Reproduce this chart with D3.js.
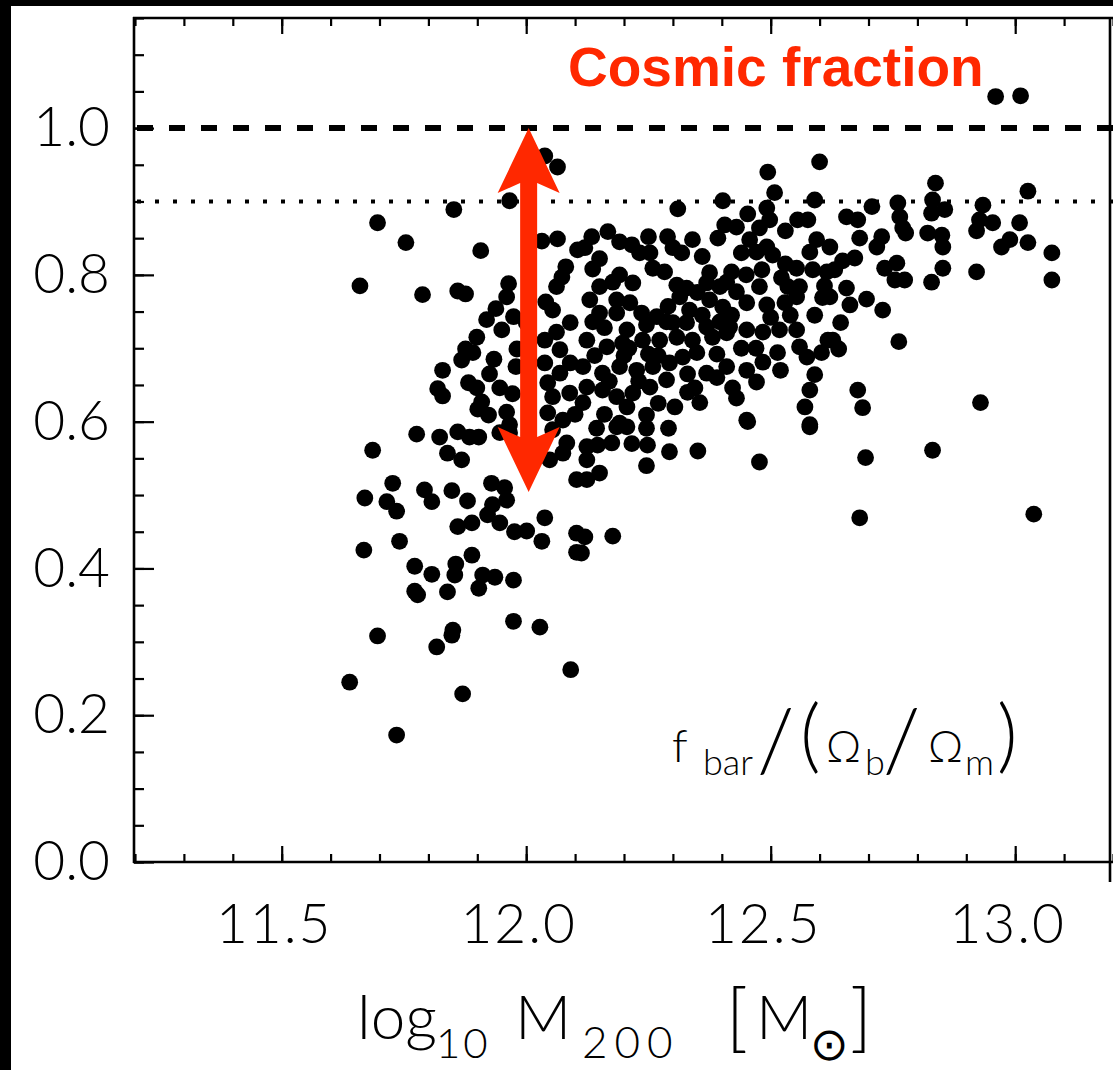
<!DOCTYPE html>
<html><head><meta charset="utf-8">
<script src="https://cdn.jsdelivr.net/npm/d3@7"></script>
<style>html,body{margin:0;padding:0;background:#000;} svg{display:block}</style>
</head><body><svg id="c" width="1113" height="1070"></svg>
<script>
// ---------- data (log10 M200, f_bar/(Omega_b/Omega_m)) ----------
const xTicksMajor = [11.5, 12.0, 12.5, 13.0];
const yTicksMajor = [0.0, 0.2, 0.4, 0.6, 0.8, 1.0];
const xDomain = [11.2, 13.2];
const yDomain = [0, 1.15];
const cosmicLevel = 1.0;
const dottedLevel = 0.9;
const arrowMass = 12.005;
const arrowRange = [0.504, 1.0];

const outliers = [[11.639,0.245],[11.735,0.173],[11.696,0.308],[11.668,0.425],[11.686,0.561],[11.660,0.785],[11.870,0.229],[12.091,0.262],[11.974,0.328],[12.028,0.320],[12.960,1.043],[13.011,1.044],[12.694,0.551],[12.831,0.561],[12.682,0.469],[13.038,0.474],[12.929,0.626],[12.678,0.643],[12.688,0.619]];

const lowMassUpper = [[11.696,0.871],[11.754,0.844],[11.852,0.889],[11.907,0.833],[11.966,0.901],[12.038,0.962],[12.064,0.947],[11.788,0.773],[11.860,0.778],[11.876,0.774],[12.032,0.846],[12.064,0.849],[12.105,0.834],[12.081,0.811],[12.073,0.797],[12.062,0.784],[11.964,0.788],[11.960,0.770],[11.938,0.754],[11.919,0.739],[11.974,0.743],[12.040,0.763],[12.054,0.752],[11.899,0.715],[11.876,0.699],[11.868,0.684],[11.891,0.694],[11.934,0.685],[11.981,0.699],[11.979,0.675],[11.829,0.670],[11.882,0.653],[11.899,0.646],[11.819,0.645],[11.829,0.635],[11.946,0.646],[11.972,0.638],[11.909,0.627],[11.901,0.617],[11.923,0.609],[11.960,0.613],[12.044,0.612],[11.776,0.583],[11.823,0.579],[11.860,0.586],[11.884,0.579],[11.966,0.585],
[12.038,0.711],[12.062,0.722],[12.038,0.680],[12.069,0.698],[12.044,0.653],[12.054,0.634],[12.075,0.602],[12.054,0.589],[12.083,0.571],[12.048,0.548],[12.089,0.639],[12.069,0.666],
[11.95,0.725],[11.925,0.665],[12.00,0.735],[12.09,0.735],[12.09,0.68],[12.10,0.61]];

const lowMassLower = [[11.903,0.579],[11.839,0.557],[11.868,0.548],[11.946,0.585],[11.966,0.596],[12.075,0.557],[12.103,0.521],[11.727,0.516],[11.670,0.496],[11.715,0.491],[11.735,0.478],[11.792,0.507],[11.807,0.491],[11.848,0.506],[11.880,0.492],[11.929,0.516],[11.956,0.510],[11.960,0.493],[11.931,0.487],[11.921,0.473],[11.946,0.462],[11.860,0.457],[11.889,0.462],[11.976,0.450],[12.001,0.451],[12.038,0.469],[12.032,0.437],[12.103,0.448],[12.103,0.422],[11.741,0.437],[11.772,0.403],[11.807,0.392],[11.856,0.406],[11.854,0.391],[11.889,0.418],[11.911,0.391],[11.936,0.388],[11.903,0.373],[11.974,0.384],[11.772,0.369],[11.778,0.364],[11.839,0.368],[11.850,0.316],[11.848,0.309],[11.817,0.293]];

const midMassLower = [[12.144,0.591],[12.185,0.593],[12.206,0.593],[12.246,0.591],[12.291,0.591],[12.124,0.566],[12.146,0.568],[12.175,0.571],[12.216,0.570],[12.248,0.568],[12.293,0.559],[12.351,0.560],[12.246,0.540],[12.124,0.548],[12.150,0.530],[12.124,0.521],[12.453,0.600],[12.477,0.545],[12.580,0.593],[12.120,0.443],[12.177,0.444],[12.113,0.421]];

const highMass = [[12.837,0.925],[13.026,0.914],[12.707,0.893],[12.760,0.898],[12.764,0.879],[12.770,0.864],[12.776,0.857],[12.831,0.902],[12.856,0.889],[12.829,0.884],[12.821,0.857],[12.850,0.854],[12.852,0.838],[12.934,0.895],[12.927,0.875],[12.954,0.871],[12.921,0.860],[13.009,0.871],[12.989,0.848],[12.972,0.838],[13.026,0.844],[13.075,0.830],[13.075,0.793],[12.921,0.804],[12.852,0.809],[12.829,0.790],[12.655,0.879],[12.678,0.875],[12.682,0.850],[12.727,0.852],[12.717,0.838],[12.621,0.838],[12.672,0.823],[12.647,0.819],[12.631,0.807],[12.733,0.809],[12.758,0.816],[12.754,0.793],[12.774,0.793],[12.655,0.782],[12.662,0.759],[12.696,0.767],[12.621,0.770],[12.729,0.752],[12.643,0.735],[12.627,0.711],[12.639,0.699],[12.762,0.709]];

const midMassCore = [[12.600,0.954],[12.494,0.940],[12.508,0.912],[12.590,0.902],[12.402,0.901],[12.310,0.890],[12.492,0.891],[12.453,0.883],[12.555,0.875],[12.576,0.875],[12.406,0.868],[12.430,0.865],[12.477,0.864],[12.498,0.875],[12.392,0.850],[12.457,0.848],[12.492,0.838],[12.504,0.827],[12.471,0.831],[12.594,0.848],[12.580,0.831],[12.134,0.852],[12.167,0.859],[12.120,0.837],[12.191,0.845],[12.216,0.841],[12.232,0.830],[12.253,0.830],[12.289,0.852],[12.300,0.837],[12.318,0.830],[12.136,0.808],[12.191,0.800],[12.259,0.809],[12.283,0.804],[12.218,0.789],[12.177,0.790],[12.150,0.784],[12.375,0.803],[12.420,0.804],[12.482,0.807],[12.522,0.796],[12.553,0.809],[12.586,0.807],[12.615,0.804],[12.308,0.786],[12.328,0.782],[12.369,0.789],[12.396,0.784],[12.430,0.777],[12.477,0.784],[12.535,0.784],[12.559,0.784],[12.130,0.766],[12.185,0.766],[12.212,0.762],[12.150,0.748],[12.185,0.748],[12.236,0.748],[12.267,0.743],[12.314,0.770],[12.334,0.752],[12.375,0.766],[12.402,0.756],[12.451,0.762],[12.492,0.759],[12.529,0.762],[12.553,0.770],[12.606,0.769],[12.136,0.736],[12.206,0.725],[12.246,0.732],[12.287,0.736],[12.328,0.735],[12.369,0.729],[12.396,0.736],[12.416,0.729],[12.451,0.725],[12.484,0.722],[12.518,0.725],[12.553,0.725],[12.124,0.711],[12.165,0.702],[12.197,0.707],[12.238,0.711],[12.273,0.711],[12.308,0.715],[12.340,0.711],[12.381,0.715],[12.410,0.721],[12.514,0.694],[12.559,0.702],[12.574,0.688],[12.604,0.694],[12.617,0.711],[12.116,0.675],[12.156,0.666],[12.191,0.675],[12.226,0.670],[12.259,0.675],[12.293,0.680],[12.320,0.688],[12.349,0.694],[12.369,0.666],[12.410,0.675],[12.451,0.670],[12.484,0.681],[12.471,0.654],[12.345,0.646],[12.355,0.626],[12.422,0.646],[12.430,0.632],[12.451,0.602],[12.590,0.664],[12.580,0.643],[12.570,0.620],[12.580,0.596],[12.124,0.647],[12.156,0.643],[12.185,0.634],[12.218,0.639],[12.253,0.647],[12.287,0.657],[12.191,0.598],[12.246,0.609],[12.304,0.620],[12.206,0.620],[12.116,0.626]];

const coreFill = [[12.14,0.690],[12.20,0.690],[12.25,0.692],[12.17,0.655],[12.23,0.655],[12.27,0.690],[12.33,0.665],[12.39,0.692],[12.44,0.700],[12.47,0.700],[12.36,0.745],[12.42,0.745],[12.50,0.742],[12.16,0.728],[12.29,0.757],[12.35,0.776],[12.41,0.790],[12.45,0.800],[12.53,0.815],[12.53,0.860],[12.44,0.830],[12.36,0.825],[12.34,0.848],[12.25,0.852],[12.15,0.822],[12.27,0.625],[12.33,0.640],[12.16,0.610],[12.39,0.660],[12.52,0.670],[12.54,0.745],[12.59,0.745],[12.61,0.785],[12.21,0.700],[12.30,0.735]];

const pointGroups = [outliers, lowMassUpper, lowMassLower, midMassLower, highMass, midMassCore, coreFill];

// ---------- drawing ----------
const W = 1113, H = 1070;
const svg = d3.select('#c');
const FONT = "Lato, 'DejaVu Sans', sans-serif";
const RED = '#ff2800';

svg.append('rect').attr('x', 11).attr('y', 6).attr('width', W - 11).attr('height', H - 6).attr('fill', '#fff');

const x = d3.scaleLinear().domain(xDomain).range([135, 1113]);
const y = d3.scaleLinear().domain(yDomain).range([862, 18]);
const x0 = 134, yB = y(0), yT = y(yDomain[1]);

// reference lines
svg.append('line').attr('x1', x0 + 3).attr('x2', W).attr('y1', y(cosmicLevel)).attr('y2', y(cosmicLevel))
  .attr('stroke', '#000').attr('stroke-width', 6).attr('stroke-dasharray', '16,16');
svg.append('line').attr('x1', x0 + 3).attr('x2', W).attr('y1', y(dottedLevel)).attr('y2', y(dottedLevel))
  .attr('stroke', '#000').attr('stroke-width', 4).attr('stroke-dasharray', '4,14');

// points
const allPts = pointGroups.flat();
svg.append('g').selectAll('circle').data(allPts).join('circle')
  .attr('cx', d => x(d[0])).attr('cy', d => y(d[1])).attr('r', 8.4).attr('fill', '#000');

// axes
function styleAxis(g) {
  g.select('.domain').remove();
  g.selectAll('.tick line').attr('stroke', '#000').attr('stroke-width', 2.2);
  g.selectAll('.tick text').attr('fill', '#000').style('font-family', FONT).style('font-weight', 300).style('font-size', '55px');
}
svg.append('g').attr('transform', `translate(${x0},0)`)
  .call(d3.axisLeft(y).tickValues(d3.range(0, 1.151, 0.05)).tickSize(-10).tickFormat('')).call(styleAxis);
svg.append('g').attr('transform', `translate(${x0},0)`)
  .call(d3.axisLeft(y).tickValues(yTicksMajor).tickSize(-20).tickPadding(24).tickFormat(d3.format('.1f'))).call(styleAxis);
const minorX = d3.range(112, 133, 1).map(v => v / 10);
svg.append('g').attr('transform', `translate(0,${yB})`)
  .call(d3.axisBottom(x).tickValues(minorX).tickSize(-8).tickFormat('')).call(styleAxis);
svg.append('g').attr('transform', `translate(0,${yB})`)
  .call(d3.axisBottom(x).tickValues(xTicksMajor).tickSize(-16).tickPadding(42).tickFormat(d3.format('.1f')))
  .call(styleAxis)
  .call(g => g.selectAll('.tick text').attr('dx', -8).style('letter-spacing', '2px'));
svg.append('g').attr('transform', `translate(0,${yT})`)
  .call(d3.axisTop(x).tickValues(minorX).tickSize(-8).tickFormat('')).call(styleAxis);
svg.append('g').attr('transform', `translate(0,${yT})`)
  .call(d3.axisTop(x).tickValues(xTicksMajor).tickSize(-16).tickFormat('')).call(styleAxis);

// frame
const frame = svg.append('g').attr('stroke', '#000').attr('stroke-width', 2.6);
frame.append('line').attr('x1', x0).attr('x2', x0).attr('y1', yT - 1).attr('y2', yB + 1);
frame.append('line').attr('x1', x0 - 1).attr('x2', W).attr('y1', yB).attr('y2', yB);
frame.append('line').attr('x1', x0 - 1).attr('x2', W).attr('y1', yT).attr('y2', yT);
frame.append('line').attr('x1', 1110).attr('x2', 1110).attr('y1', yT).attr('y2', yB + 20);

// double arrow
const ax = x(arrowMass), aTop = y(arrowRange[1]), aBot = y(arrowRange[0]);
const hw = 31, sw = 8.5, hl = 65, notch = 10;
const arrowPath = [
  [ax, aTop], [ax + hw, aTop + hl], [ax + sw, aTop + hl - notch],
  [ax + sw, aBot - hl + notch], [ax + hw, aBot - hl], [ax, aBot],
  [ax - hw, aBot - hl], [ax - sw, aBot - hl + notch],
  [ax - sw, aTop + hl - notch], [ax - hw, aTop + hl]
];
svg.append('path').attr('d', d3.line()(arrowPath) + 'Z').attr('fill', RED);

// red label
svg.append('text').attr('x', 568).attr('y', 86).text('Cosmic fraction')
  .style('font-family', "'Liberation Sans', Arial, sans-serif").style('font-weight', 'bold')
  .style('font-size', '55px').attr('fill', RED);

// generic helper for positioned text pieces
function pieces(parts) {
  const g = svg.append('g').attr('fill', '#000');
  parts.forEach(p => {
    g.append('text').attr('x', p[1]).attr('y', p[2]).text(p[0])
      .style('font-family', p[4] || FONT).style('font-size', p[3] + 'px')
      .style('font-weight', p[6] || 300)
      .style('letter-spacing', (p[5] || 0) + 'px');
  });
}

// in-panel label f_bar/(Ω_b/Ω_m)
pieces([
  ['f', 672, 762, 46],
  ['bar', 703, 775, 36],
  ['/', 757, 771, 86],
  ['(', 800, 763, 80],
  ['Ω', 826, 762, 44],
  ['b', 865, 775, 36],
  ['/', 883, 771, 86],
  ['Ω', 928, 762, 44],
  ['m', 965, 775, 36],
  [')', 997, 763, 80]
]);

// x-axis title  log10 M200 [M⊙]
pieces([
  ['log', 357, 1039, 62],
  ['10', 436, 1058, 42, null, 3],
  ['M', 515, 1039, 62],
  ['200', 582, 1058, 44, null, 7],
  ['[', 726, 1043, 74],
  ['M', 756, 1039, 62],
  ['⊙', 810, 1060, 46, "'DejaVu Sans', sans-serif", 0, 200],
  [']', 850, 1043, 74]
]);
</script>
</body></html>
